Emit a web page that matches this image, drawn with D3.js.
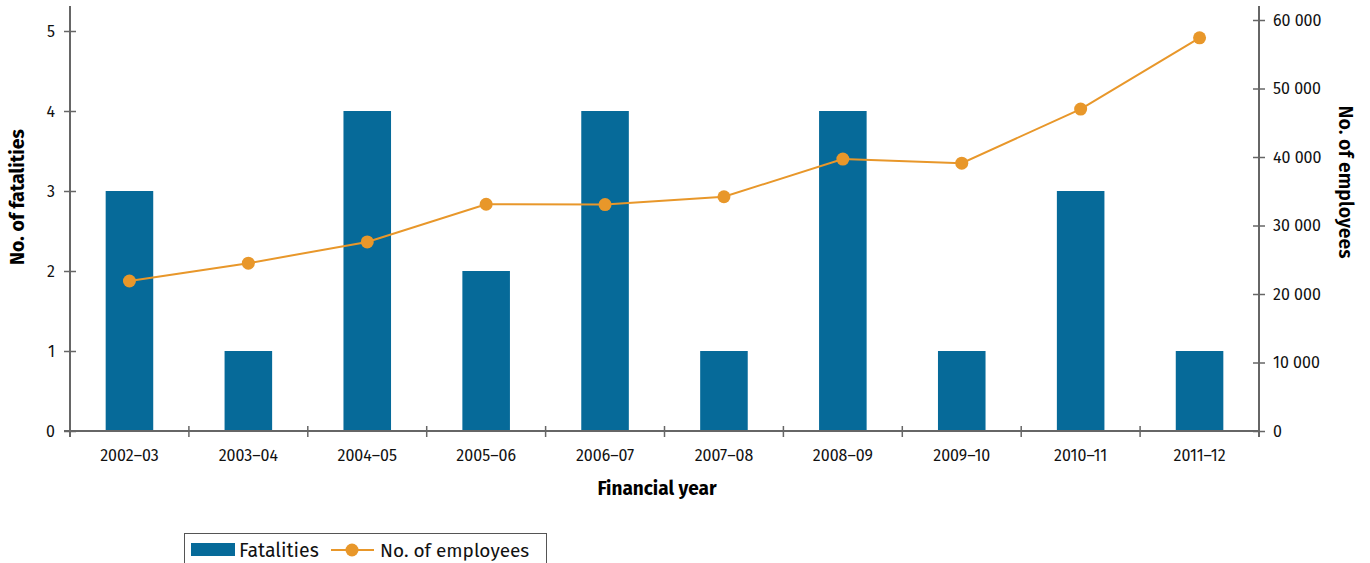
<!DOCTYPE html>
<html>
<head>
<meta charset="utf-8">
<script src="https://cdn.jsdelivr.net/npm/d3@7"></script>
<style>
  html, body { margin: 0; padding: 0; background: #fff; }
  svg { display: block; font-family: "Fira Sans", "Open Sans", Lato, sans-serif; }
</style>
</head>
<body>
<svg id="chart" width="1370" height="563"></svg>
<script>
// Financial years and the two series
const years = ["2002–03", "2003–04", "2004–05", "2005–06", "2006–07",
               "2007–08", "2008–09", "2009–10", "2010–11", "2011–12"];
const fatalities = [3, 1, 4, 2, 4, 1, 4, 1, 3, 1];
const employees = [21900, 24500, 27600, 33100, 33050, 34200, 39700, 39100, 47000, 57400];
const leftTicks = [0, 1, 2, 3, 4, 5];
const rightTicks = [0, 10000, 20000, 30000, 40000, 50000, 60000];

const BAR = "#066a99";
const LINE = "#e8972a";
const AXIS = "#666";
const FONT = '"Fira Sans", "Open Sans", Lato, sans-serif';

const svg = d3.select("#chart");
const plotL = 70, plotR = 1259, plotT = 6, plotB = 431;

const x = d3.scaleBand().domain(years).range([plotL, plotR]).paddingInner(0.6).paddingOuter(0.3);
const xEdge = d3.scaleBand().domain(years).range([plotL, plotR]).padding(0);
const yL = d3.scaleLinear().domain([0, 5.3125]).range([plotB, plotT]);
const yR = d3.scaleLinear().domain([0, 62044]).range([plotB, plotT]);

// Bars
svg.append("g").selectAll("rect").data(years).join("rect")
  .attr("x", d => x(d))
  .attr("y", (d, i) => yL(fatalities[i]))
  .attr("width", x.bandwidth())
  .attr("height", (d, i) => yL(0) - yL(fatalities[i]))
  .attr("fill", BAR);

// Axes
const fmt = d3.format(",");
const spaceFmt = v => fmt(v).replace(/,/g, " ");

const gL = svg.append("g").attr("transform", `translate(${plotL},0)`)
  .call(d3.axisLeft(yL).tickValues(leftTicks).tickSize(6).tickPadding(9).tickFormat(d3.format("d")));
gL.selectAll(".tick line").attr("x2", -6).attr("x1", 6);

const gR = svg.append("g").attr("transform", `translate(${plotR},0)`)
  .call(d3.axisRight(yR).tickValues(rightTicks).tickSize(6).tickPadding(8).tickFormat(spaceFmt));
gR.selectAll(".tick line").attr("x1", -6).attr("x2", 6);

const gX = svg.append("g").attr("transform", `translate(0,${plotB})`)
  .call(d3.axisBottom(x).tickSize(0).tickPadding(19));
// boundary ticks between years
gX.selectAll(".edge").data(years.slice(1)).join("line")
  .attr("class", "edge")
  .attr("x1", d => xEdge(d)).attr("x2", d => xEdge(d))
  .attr("y1", -5).attr("y2", 6);

[gL, gR, gX].forEach(g => {
  g.attr("font-family", FONT).attr("font-size", 16);
  g.select(".domain").attr("stroke", AXIS).attr("stroke-width", 2);
  g.selectAll("line").attr("stroke", AXIS).attr("stroke-width", 1.5);
  g.selectAll("text").attr("fill", "#111");
});
gL.select(".domain").attr("d", `M0,${plotT}V${plotB + 6}`);
gR.select(".domain").attr("d", `M0,${plotT}V${plotB + 6}`);
gX.select(".domain").attr("d", `M${plotL - 6},0H${plotR}`);

// Employee line
const cx = (d, i) => x(years[i]) + x.bandwidth() / 2;
const line = d3.line().x(cx).y(d => yR(d));
svg.append("path").datum(employees)
  .attr("d", line).attr("fill", "none").attr("stroke", LINE).attr("stroke-width", 2);
svg.append("g").selectAll("circle").data(employees).join("circle")
  .attr("cx", cx).attr("cy", d => yR(d)).attr("r", 6.5).attr("fill", LINE);

// Axis titles
svg.append("text").attr("transform", `translate(24,197) rotate(-90)`)
  .attr("text-anchor", "middle").style("font-size", "19.5px").style("font-weight", "bold")
  .text("No. of fatalities");
svg.append("text").attr("transform", `translate(1339,182) rotate(90)`)
  .attr("text-anchor", "middle").style("font-size", "19.5px").style("font-weight", "600")
  .text("No. of employees");
svg.append("text").attr("x", 657).attr("y", 495)
  .attr("text-anchor", "middle").style("font-size", "19px").style("font-weight", "bold")
  .text("Financial year");

// Legend
const lg = svg.append("g");
lg.append("rect").attr("x", 184.5).attr("y", 533.5).attr("width", 362).attr("height", 40)
  .attr("fill", "none").attr("stroke", "#555").attr("stroke-width", 1);
lg.append("rect").attr("x", 191).attr("y", 543).attr("width", 44).attr("height", 13).attr("fill", BAR);
lg.append("text").attr("x", 239).attr("y", 557).style("font-size", "19.5px").attr("fill", "#111").text("Fatalities");
lg.append("line").attr("x1", 331).attr("x2", 374).attr("y1", 550).attr("y2", 550)
  .attr("stroke", LINE).attr("stroke-width", 2);
lg.append("circle").attr("cx", 352).attr("cy", 550).attr("r", 6.5).attr("fill", LINE);
lg.append("text").attr("x", 380).attr("y", 557).style("font-size", "19px").attr("fill", "#111").text("No. of employees");
</script>
</body>
</html>
